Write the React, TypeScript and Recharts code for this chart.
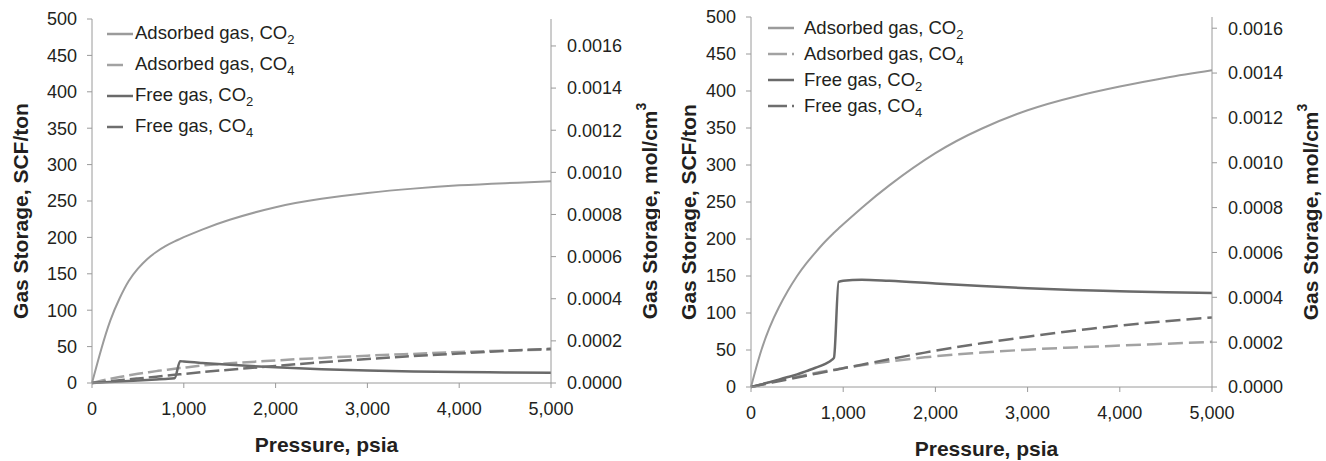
import React from 'react';
import { LineChart, Line, XAxis, YAxis, Legend } from 'recharts';

// ---------- Data (left panel) ----------
const pressureLeft = [0, 100, 200, 300, 400, 500, 600, 700, 800, 900, 960, 1000, 1200, 1500, 2000, 2500, 3000, 3500, 4000, 4500, 5000];
const adsorbedCO2Left = [0, 46, 86, 116, 140, 157, 170, 180, 188, 194.5, 198, 200.3, 210.7, 224.2, 241.5, 253, 261, 267, 271.5, 274.5, 277];
const adsorbedCO4Left = [0, 3, 5.7, 8.2, 10.5, 12.6, 14.5, 16.3, 18, 19.6, 20.5, 21, 24, 27, 31, 34.5, 37.5, 40, 42.5, 44.5, 46];
const freeCO2Left = [0, 0.7, 1.4, 2.1, 2.8, 3.5, 4.2, 4.9, 5.6, 6.5, 30, 29.5, 27.5, 25, 21.5, 19, 17, 15.8, 15, 14.5, 14];
const freeCO4Left = [0, 1.2, 2.5, 3.7, 5, 6.2, 7.5, 8.7, 10, 11.2, 12, 12.5, 15, 18.3, 23.5, 28.5, 33, 37, 40.5, 44, 47];

// ---------- Data (right panel) ----------
const pressureRight = [0, 100, 200, 300, 400, 500, 600, 700, 800, 880, 900, 950, 1000, 1200, 1500, 2000, 2500, 3000, 3500, 4000, 4500, 5000];
const adsorbedCO2Right = [0, 45, 80, 107, 130, 150, 167, 182, 196, 206, 208.4, 214.3, 220, 242, 272.5, 316, 349, 374, 392, 406, 418, 428];
const adsorbedCO4Right = [0, 3, 6, 8.7, 11.5, 14, 16.5, 19, 21.3, 23, 23.5, 24.5, 25.5, 29.5, 34.5, 41.5, 46.5, 50.5, 53.5, 56, 58.5, 61];
const freeCO2Right = [0, 3, 6.5, 10, 13.5, 17, 21.5, 26, 31, 37, 39.5, 142, 143.5, 145, 143.5, 140, 136.5, 133.5, 131, 129.5, 128, 127];
const freeCO4Right = [0, 2.6, 5.2, 7.8, 10.3, 12.8, 15.3, 17.8, 20.3, 22.3, 22.8, 24, 25.3, 30.2, 37.5, 49, 59, 68, 76, 83, 89, 94];

// ---------- Axis ticks & labels ----------
const xTicks = [0, 1000, 2000, 3000, 4000, 5000];
const yTicks = [0, 50, 100, 150, 200, 250, 300, 350, 400, 450, 500];
const y2Ticks = [0, 0.0002, 0.0004, 0.0006, 0.0008, 0.001, 0.0012, 0.0014, 0.0016];
const y2MaxLeft = 0.001728;
const y2MaxRight = 0.00165;
const seriesNames = ['Adsorbed gas, CO', 'Adsorbed gas, CO', 'Free gas, CO', 'Free gas, CO'];
const seriesSubs = ['2', '4', '2', '4'];
const xTitle = 'Pressure, psia';
const yTitle = 'Gas Storage, SCF/ton';
const y2Title = 'Gas Storage, mol/cm';

const FONT = '"Liberation Sans", Arial, Helvetica, sans-serif';
const TEXT = '#231f20';
const AXIS = '#9a9a9a';

const build = (p: number[], a: number[], b: number[], c: number[], d: number[]) =>
  p.map((x, i) => ({ p: x, adsCO2: a[i], adsCO4: b[i], freeCO2: c[i], freeCO4: d[i] }));

const dataLeft = build(pressureLeft, adsorbedCO2Left, adsorbedCO4Left, freeCO2Left, freeCO4Left);
const dataRight = build(pressureRight, adsorbedCO2Right, adsorbedCO4Right, freeCO2Right, freeCO4Right);

const styles = [
  { key: 'adsCO2', color: '#9b9b9b', width: 2, dash: undefined as string | undefined, curve: 'natural' },
  { key: 'adsCO4', color: '#a2a2a2', width: 2.5, dash: '14 5', curve: 'natural' },
  { key: 'freeCO2', color: '#6a6a6a', width: 2.5, dash: undefined as string | undefined, curve: 'monotone' },
  { key: 'freeCO4', color: '#6e6e6e', width: 2.5, dash: '14 5', curve: 'natural' },
];

const fmtX = (v: number) => v.toLocaleString('en-US');
const fmtY2 = (v: number) => v.toFixed(4);

const VTitle = (props: any) => {
  const { viewBox, offsetX, text, sup } = props;
  const vb = viewBox || {};
  const cx = (vb.x || 0) + offsetX;
  const cy = (vb.y || 0) + (vb.height || 0) / 2 + 10;
  return (
    <text
      x={cx}
      y={cy}
      transform={`rotate(-90 ${cx} ${cy})`}
      textAnchor="middle"
      dominantBaseline="central"
      fontFamily={FONT}
      fontSize={21}
      fontWeight="bold"
      fill={TEXT}
    >
      {text}
      {sup ? (
        <tspan fontSize={14} dy={-8}>
          {sup}
        </tspan>
      ) : null}
    </text>
  );
};

const XTitle = (props: any) => {
  const { viewBox, text, offsetY } = props;
  const vb = viewBox || {};
  const cx = (vb.x || 0) + (vb.width || 0) / 2 + 5;
  const cy = (vb.y || 0) + offsetY;
  return (
    <text x={cx} y={cy} textAnchor="middle" dominantBaseline="central" fontFamily={FONT} fontSize={21} fontWeight="bold" fill={TEXT}>
      {text}
    </text>
  );
};

const LegendBox = ({ rowH, gap, dashed }: { rowH: number; gap: number; dashed: string }) => (
  <div style={{ fontFamily: FONT, fontSize: 18.5, color: TEXT, lineHeight: 1 }}>
    {styles.map((s, i) => (
      <div key={s.key} style={{ display: 'flex', alignItems: 'center', height: rowH, whiteSpace: 'nowrap' }}>
        <svg width={26} height={10} style={{ display: 'block' }}>
          <line x1={0} y1={5} x2={26} y2={5} stroke={s.color} strokeWidth={2.5} strokeDasharray={s.dash ? dashed : undefined} />
        </svg>
        <span style={{ marginLeft: gap }}>
          {seriesNames[i]}
          <span style={{ fontSize: 13, position: 'relative', top: 5 }}>{seriesSubs[i]}</span>
        </span>
      </div>
    ))}
  </div>
);

const tickStyle = { fontFamily: FONT, fontSize: 18, fill: TEXT };

const Panel = ({
  data,
  width,
  top,
  bottom,
  leftW,
  rightW,
  y2Max,
  legendTop,
  legendLeft,
  rowH,
  gap,
  legendDash,
  leftTitleX,
  rightTitleX,
  lineDash,
}: any) => (
  <LineChart width={width} height={461} data={data} margin={{ top, right: 0, bottom: 0, left: 0 }}>
    <XAxis
      dataKey="p"
      type="number"
      domain={[0, 5000]}
      ticks={xTicks}
      tickFormatter={fmtX}
      height={bottom}
      stroke={AXIS}
      tickSize={5}
      tickMargin={14}
      tick={tickStyle}
      interval={0}
      label={<XTitle text={xTitle} offsetY={61} />}
    />
    <YAxis
      yAxisId="left"
      orientation="left"
      type="number"
      domain={[0, 500]}
      ticks={yTicks}
      width={leftW}
      stroke={AXIS}
      tickSize={5}
      tickMargin={10}
      tick={tickStyle}
      interval={0}
      label={<VTitle text={yTitle} offsetX={leftTitleX} />}
    />
    <YAxis
      yAxisId="right"
      orientation="right"
      type="number"
      domain={[0, y2Max]}
      ticks={y2Ticks}
      tickFormatter={fmtY2}
      width={rightW}
      stroke={AXIS}
      tickSize={5}
      tickMargin={11}
      tick={tickStyle}
      interval={0}
      allowDataOverflow
      label={<VTitle text={y2Title} sup="3" offsetX={rightTitleX} />}
    />
    <Legend
      layout="vertical"
      align="center"
      verticalAlign="middle"
      wrapperStyle={{ top: legendTop, left: legendLeft, width: 'auto' }}
      content={() => <LegendBox rowH={rowH} gap={gap} dashed={legendDash} />}
    />
    {styles.map((s) => (
      <Line
        key={s.key}
        yAxisId="left"
        dataKey={s.key}
        type={s.curve as any}
        stroke={s.color}
        strokeWidth={s.width}
        strokeDasharray={s.dash ? lineDash : undefined}
        dot={false}
        activeDot={false}
        isAnimationActive={false}
      />
    ))}
  </LineChart>
);

export default function App() {
  return (
    <div style={{ position: 'absolute', left: 0, top: 0, width: 1326, height: 461, background: '#fff' }}>
      <div style={{ position: 'absolute', left: 0, top: 0 }}>
        <Panel
          data={dataLeft}
          width={660}
          top={19}
          bottom={78}
          leftW={92}
          rightW={109}
          y2Max={y2MaxLeft}
          legendTop={18}
          legendLeft={107}
          rowH={31}
          gap={2}
          legendDash="16 20"
          leftTitleX={20}
          rightTitleX={98}
          lineDash="14 5"
        />
      </div>
      <div style={{ position: 'absolute', left: 660, top: 0 }}>
        <Panel
          data={dataRight}
          width={666}
          top={17}
          bottom={74}
          leftW={91}
          rightW={114}
          y2Max={y2MaxRight}
          legendTop={15}
          legendLeft={108}
          rowH={26}
          gap={10}
          legendDash="19 5 2 20"
          leftTitleX={28}
          rightTitleX={98}
          lineDash="15 6"
        />
      </div>
    </div>
  );
}
